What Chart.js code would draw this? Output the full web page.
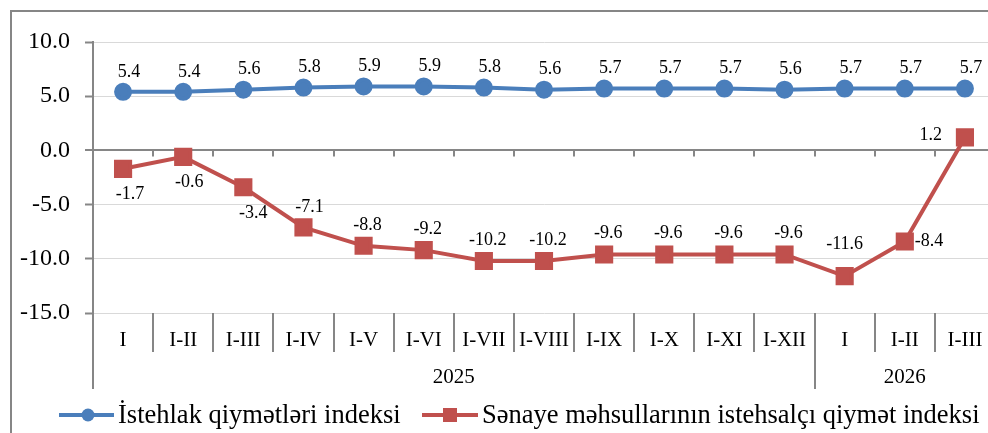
<!DOCTYPE html>
<html>
<head>
<meta charset="utf-8">
<script src="https://cdn.jsdelivr.net/npm/chart.js@4/dist/chart.umd.min.js"></script>
<style>
  html, body { margin: 0; padding: 0; background: #fff; overflow: hidden; }
  #chart { display: block; }
</style>
</head>
<body>
<canvas id="chart" width="1000" height="433"></canvas>
<script>
const categories = ["I", "I-II", "I-III", "I-IV", "I-V", "I-VI", "I-VII", "I-VIII", "I-IX", "I-X", "I-XI", "I-XII", "I", "I-II", "I-III"];
const years = ["2025", "2026"];
const yearSpans = [12, 3];

const istehlak = [5.4, 5.4, 5.6, 5.8, 5.9, 5.9, 5.8, 5.6, 5.7, 5.7, 5.7, 5.6, 5.7, 5.7, 5.7];
const senaye = [-1.7, -0.6, -3.4, -7.1, -8.8, -9.2, -10.2, -10.2, -9.6, -9.6, -9.6, -9.6, -11.6, -8.4, 1.2];

const seriesNames = ["İstehlak qiymətləri indeksi", "Sənaye məhsullarının istehsalçı qiymət indeksi"];

const BLUE = "#4a7ebb";
const RED = "#c0504d";
const AXIS = "#868686";
const SERIF = "'Liberation Serif', 'Times New Roman', serif";

// label placement for the red series: [dx, dy, align]
const redLabelPos = [
  [7, 25, "center"], [6, 25, "center"], [10, 26, "center"], [6, -20, "center"],
  [4, -21, "center"], [4, -21, "center"], [4, -21, "center"], [4, -21, "center"],
  [4, -21, "center"], [4, -21, "center"], [4, -21, "center"], [4, -21, "center"],
  [0, -32, "center"], [10, 0, "left"], [-23, -2, "right"]
];

const decor = {
  id: "decor",
  beforeDraw(chart) {
    const ctx = chart.ctx;
    ctx.save();
    ctx.fillStyle = "#fff";
    ctx.fillRect(0, 0, chart.width, chart.height);
    ctx.strokeStyle = AXIS;
    ctx.lineWidth = 2;
    ctx.strokeRect(11, 11, 1100, 600);
    ctx.restore();
  },
  afterDatasetsDraw(chart) {
    const ctx = chart.ctx;
    const x = chart.scales.x, y = chart.scales.y;
    const area = chart.chartArea;
    const half = (x.getPixelForValue(1) - x.getPixelForValue(0)) / 2;
    const y0 = y.getPixelForValue(0);
    ctx.save();
    ctx.strokeStyle = AXIS;
    ctx.lineWidth = 2;
    // left axis extension + category separators
    ctx.beginPath();
    ctx.moveTo(area.left, area.bottom);
    ctx.lineTo(area.left, area.bottom + 76);
    let idx = 0;
    const groupEnds = [];
    yearSpans.forEach(n => { idx += n; groupEnds.push(idx); });
    for (let i = 1; i < categories.length; i++) {
      const bx = Math.round(x.getPixelForValue(i) - half);
      const long = groupEnds.includes(i);
      ctx.moveTo(bx, area.bottom);
      ctx.lineTo(bx, area.bottom + (long ? 76 : 39));
      // small ticks on zero line
      ctx.moveTo(bx, y0);
      ctx.lineTo(bx, y0 + 6);
    }
    ctx.stroke();

    // year labels
    ctx.fillStyle = "#000";
    ctx.font = "21px " + SERIF;
    ctx.textAlign = "center";
    ctx.textBaseline = "middle";
    let start = 0;
    years.forEach((yr, k) => {
      const end = start + yearSpans[k] - 1;
      const cx = (x.getPixelForValue(start) - half + x.getPixelForValue(end) + half) / 2;
      ctx.fillText(yr, cx, area.bottom + 64);
      start = end + 1;
    });

    // data labels
    ctx.font = "18px " + SERIF;
    chart.getDatasetMeta(0).data.forEach((pt, i) => {
      ctx.textAlign = "center";
      ctx.fillText(istehlak[i].toFixed(1), pt.x + 6, pt.y - 20);
    });
    chart.getDatasetMeta(1).data.forEach((pt, i) => {
      const p = redLabelPos[i];
      ctx.textAlign = p[2];
      ctx.fillText(senaye[i].toFixed(1), pt.x + p[0], pt.y + p[1]);
    });

    // legend
    const ly = 415;
    ctx.font = "26.5px " + SERIF;
    ctx.textAlign = "left";
    ctx.lineWidth = 4;
    ctx.strokeStyle = BLUE;
    ctx.beginPath(); ctx.moveTo(59, ly); ctx.lineTo(114, ly); ctx.stroke();
    ctx.fillStyle = BLUE;
    ctx.beginPath(); ctx.arc(88, ly, 6.5, 0, Math.PI * 2); ctx.fill();
    ctx.fillStyle = "#000";
    ctx.fillText(seriesNames[0], 118, ly + 1);
    ctx.strokeStyle = RED;
    ctx.beginPath(); ctx.moveTo(422, ly); ctx.lineTo(478, ly); ctx.stroke();
    ctx.fillStyle = RED;
    ctx.fillRect(443, ly - 7, 14, 14);
    ctx.fillStyle = "#000";
    ctx.fillText(seriesNames[1], 482, ly + 1);
    ctx.restore();
  }
};

new Chart(document.getElementById("chart"), {
  type: "line",
  data: {
    labels: categories,
    datasets: [
      {
        label: seriesNames[0],
        data: istehlak,
        borderColor: BLUE,
        backgroundColor: BLUE,
        borderWidth: 4,
        pointStyle: "circle",
        pointRadius: 7,
        pointHoverRadius: 7,
        tension: 0
      },
      {
        label: seriesNames[1],
        data: senaye,
        borderColor: RED,
        backgroundColor: RED,
        borderWidth: 4,
        pointStyle: "rect",
        pointRadius: 10,
        pointHoverRadius: 10,
        tension: 0
      }
    ]
  },
  options: {
    responsive: false,
    animation: false,
    layout: { autoPadding: false, padding: { top: 42, right: 5, bottom: 0, left: 0 } },
    plugins: {
      legend: { display: false },
      tooltip: { enabled: false }
    },
    scales: {
      x: {
        offset: true,
        grid: { display: false, drawTicks: false },
        border: { display: false },
        ticks: {
          color: "#000",
          font: { family: SERIF, size: 21 },
          padding: 15,
          maxRotation: 0,
          autoSkip: false
        },
        afterFit(scale) {
          scale.height = 120;
          scale.paddingLeft = 0;
          scale.paddingRight = 0;
        }
      },
      y: {
        min: -15,
        max: 10,
        ticks: {
          stepSize: 5,
          color: "#000",
          font: { family: SERIF, size: 24 },
          padding: 15,
          callback: v => v.toFixed(1)
        },
        grid: {
          color: c => (c.tick && c.tick.value === 0 ? AXIS : "#d9d9d9"),
          lineWidth: c => (c.tick && c.tick.value === 0 ? 2 : 1),
          tickColor: AXIS,
          tickWidth: 2,
          tickLength: 8
        },
        border: { color: AXIS, width: 2 },
        afterFit(scale) { scale.width = 93; }
      }
    }
  },
  plugins: [decor]
});
</script>
</body>
</html>
